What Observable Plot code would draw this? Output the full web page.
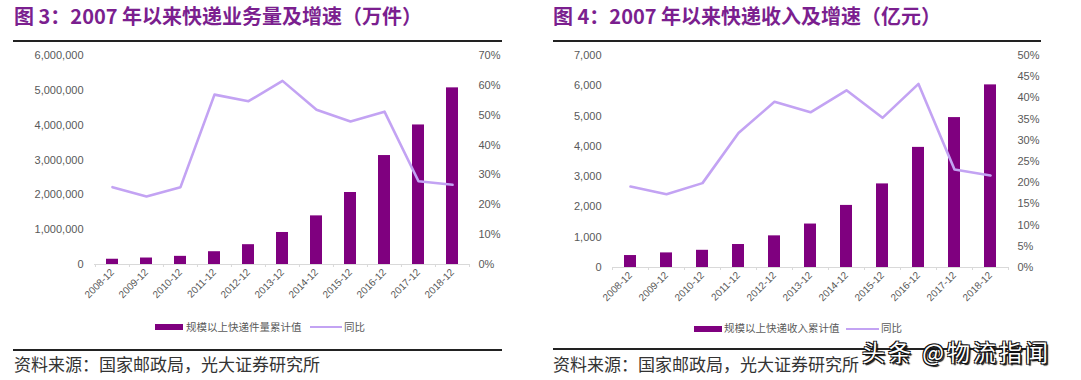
<!DOCTYPE html>
<html>
<head>
<meta charset="utf-8">
<script src="https://cdn.jsdelivr.net/npm/d3@7"></script>
<script src="https://cdn.jsdelivr.net/npm/@observablehq/plot@0.6"></script>
<style>
  html, body { margin: 0; padding: 0; background: #fff; }
  body { width: 1081px; height: 380px; overflow: hidden; position: relative; font-family: "Noto Sans CJK SC", sans-serif; }
  .abs { position: absolute; white-space: nowrap; }
  .title { font-size: 20px; line-height: 20px; font-weight: bold; color: #7b1f8f; }
  .rule { height: 1.5px; background: #222; }
  .chart { position: absolute; top: 44px; }
  .swatch-bar { height: 6px; background: #7f007f; }
  .swatch-line { height: 2px; background: #c3a3f3; }
  .legend-text { font-size: 10.5px; line-height: 12px; color: #595959; }
  .source { font-size: 17px; line-height: 17px; color: #333; }
  .watermark { font-size: 23px; line-height: 21px; letter-spacing: 3px; color: #fff;
    text-shadow: 1px 1px 0 #111, -1px -1px 0 #111, 1px -1px 0 #111, -1px 1px 0 #111, 2px 2px 1px #111; }
</style>
</head>
<body>
<div id="root"></div>
<script>
// ---------------- data ----------------
const categories = ["2008-12","2009-12","2010-12","2011-12","2012-12","2013-12","2014-12","2015-12","2016-12","2017-12","2018-12"];

// Figure 3: express volume (万件) and YoY growth (%)
const volume = [151000, 186000, 234000, 367000, 569000, 919000, 1396000, 2067000, 3128000, 4006000, 5071000];
const volumeGrowth = [25.9, 22.8, 25.9, 56.9, 54.7, 61.5, 51.8, 47.9, 51.2, 27.9, 26.7];
const volumeTicks = [0, 1000000, 2000000, 3000000, 4000000, 5000000, 6000000];
const volumePctTicks = [0, 10, 20, 30, 40, 50, 60, 70];

// Figure 4: express revenue (亿元) and YoY growth (%)
const revenue = [395, 482, 568, 759, 1045, 1435, 2050, 2760, 3966, 4950, 6030];
const revenueGrowth = [19.1, 17.3, 19.9, 31.7, 39.1, 36.6, 41.8, 35.3, 43.3, 23.1, 21.7];
const revenueTicks = [0, 1000, 2000, 3000, 4000, 5000, 6000, 7000];
const revenuePctTicks = [0, 5, 10, 15, 20, 25, 30, 35, 40, 45, 50];

const titles = ["图 3：2007 年以来快递业务量及增速（万件）", "图 4：2007 年以来快递收入及增速（亿元）"];
const legendBars = ["规模以上快递件量累计值", "规模以上快递收入累计值"];
const legendLine = "同比";
const sourceText = "资料来源：国家邮政局，光大证券研究所";
const watermarkText = "头条 @物流指闻";

// ---------------- drawing ----------------
const BAR = "#7f007f";
const LINE = "#c3a3f3";
const TICK = "#595959";
const AXIS = "#d9d9d9";
const root = document.getElementById("root");

function el(cls, css, text) {
  const d = document.createElement("div");
  d.className = "abs " + cls;
  Object.assign(d.style, css);
  if (text != null) d.textContent = text;
  root.appendChild(d);
  return d;
}

function makeChart({values, growth, ticks, pctTicks, yMax, pctMax, width, height, mt, mb, ml, mr}) {
  const k = yMax / pctMax;
  const data = categories.map((c, i) => ({cat: c, value: values[i], g: growth[i]}));
  const pi = 0.66, po = 0.33;
  const innerW = width - ml - mr;
  const step = innerW / (categories.length - pi + 2 * po);
  const tickLen = yMax / (height - mt - mb) * 3;
  return Plot.plot({
    width, height,
    marginTop: mt, marginBottom: mb, marginLeft: ml, marginRight: mr,
    style: {fontFamily: "'Liberation Sans', Arial, sans-serif", fontSize: "11px", color: TICK, background: "transparent", overflow: "visible"},
    x: {domain: categories, paddingInner: pi, paddingOuter: po, align: 0.5},
    y: {domain: [0, yMax]},
    marks: [
      Plot.axisY(ticks, {anchor: "left", tickSize: 0, tickPadding: 11, tickFormat: d3.format(","), label: null, fill: TICK}),
      Plot.axisY(pctTicks.map(p => p * k), {anchor: "right", tickSize: 0, tickPadding: 9, tickFormat: d => Math.round(d / k) + "%", label: null, fill: TICK}),
      Plot.axisX({tickSize: 0, tickRotate: -45, tickPadding: 6, label: null, fill: TICK, fontSize: 10}),
      Plot.ruleY([0], {stroke: AXIS, strokeWidth: 1.2}),
      Plot.ruleX(categories, {x: d => d, y1: 0, y2: -tickLen, dx: -step / 2, stroke: AXIS}),
      Plot.ruleX(categories.slice(-1), {x: d => d, y1: 0, y2: -tickLen, dx: step / 2, stroke: AXIS}),
      Plot.barY(data, {x: "cat", y: "value", fill: BAR}),
      Plot.line(data, {x: "cat", y: d => d.g * k, stroke: LINE, strokeWidth: 2.6})
    ]
  });
}

// Panel 1
el("title", {left: "14px", top: "6px"}, titles[0]);
el("rule", {left: "13px", top: "40px", width: "489px"});
const c1 = makeChart({values: volume, growth: volumeGrowth, ticks: volumeTicks, pctTicks: volumePctTicks,
  yMax: 6000000, pctMax: 70, width: 540, height: 270, mt: 11, mb: 50, ml: 94, mr: 71});
const w1 = el("chart", {left: "0px"}); w1.appendChild(c1);
el("swatch-bar", {left: "155px", top: "324px", width: "28px"});
el("legend-text", {left: "186px", top: "321px"}, legendBars[0]);
el("swatch-line", {left: "310px", top: "326px", width: "32px"});
el("legend-text", {left: "344px", top: "321px"}, legendLine);
el("rule", {left: "13px", top: "349px", width: "489px"});
el("source", {left: "14px", top: "355px"}, sourceText);

// Panel 2
el("title", {left: "553px", top: "6px"}, titles[1]);
el("rule", {left: "553px", top: "40px", width: "488px"});
const c2 = makeChart({values: revenue, growth: revenueGrowth, ticks: revenueTicks, pctTicks: revenuePctTicks,
  yMax: 7000, pctMax: 50, width: 541, height: 270, mt: 11, mb: 47, ml: 72, mr: 73});
const w2 = el("chart", {left: "540px"}); w2.appendChild(c2);
el("swatch-bar", {left: "694px", top: "326px", width: "28px"});
el("legend-text", {left: "724px", top: "322px"}, legendBars[1]);
el("swatch-line", {left: "846px", top: "328px", width: "33px"});
el("legend-text", {left: "881px", top: "322px"}, legendLine);
el("rule", {left: "553px", top: "348px", width: "488px"});
el("source", {left: "553px", top: "355px"}, sourceText);
el("watermark", {left: "862px", top: "341px"}, watermarkText);
</script>
</body>
</html>
